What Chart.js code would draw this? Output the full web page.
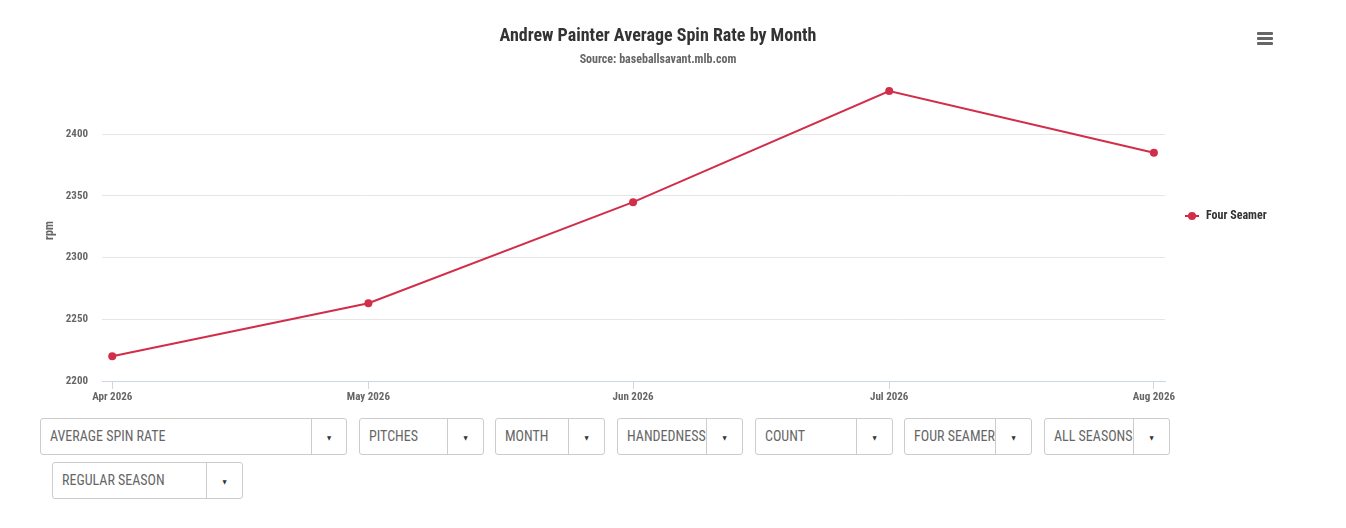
<!DOCTYPE html>
<html>
<head>
<meta charset="utf-8">
<script src="https://cdn.jsdelivr.net/npm/chart.js@4.4.1/dist/chart.umd.min.js"></script>
<style>
  html, body { margin: 0; padding: 0; background: #fff; }
  body { width: 1346px; height: 528px; position: relative; overflow: hidden;
         font-family: "Roboto Condensed", "Liberation Sans Narrow", "DejaVu Sans Condensed", sans-serif; }
  #wrap { position: absolute; left: 0; top: 0; width: 1346px; height: 410px; }
  .menu { position: absolute; left: 1257px; width: 16px; height: 3px; background: #666; border-radius: 1px; }
  .dd { position: absolute; height: 35px; border: 1px solid #ccc; border-radius: 3px; box-sizing: border-box;
        background: #fff; color: #666; font-size: 14px; }
  .dd .t { position: absolute; left: 9px; top: 0; line-height: 35px; white-space: nowrap; overflow: hidden; }
  .dd .a { position: absolute; right: 0; top: 0; bottom: 0; border-left: 1px solid #ccc; }
  .dd .a span { position: absolute; left: 50%; top: 50%; transform: translate(-50%, -50%); font-size: 6px; color: #333; }
</style>
</head>
<body>
<div id="wrap"><canvas id="c"></canvas></div>
<div class="menu" style="top:32px"></div>
<div class="menu" style="top:37px"></div>
<div class="menu" style="top:42px"></div>
<div id="controls"></div>
<script>
// ---- data ----
const chartTitle = 'Andrew Painter Average Spin Rate by Month';
const chartSubtitle = 'Source: baseballsavant.mlb.com';
const yAxisTitle = 'rpm';
const seriesName = 'Four Seamer';
const monthLabels = ['Apr 2026', 'May 2026', 'Jun 2026', 'Jul 2026', 'Aug 2026'];
const monthYear = [2026, 2026, 2026, 2026, 2026];
const monthNum = [3, 4, 5, 6, 7];            // JS month index (0 = Jan)
const spinRate = [2220, 2263, 2345, 2435, 2385];
const yTicks = [2200, 2250, 2300, 2350, 2400];
const dropdownLabels = ['AVERAGE SPIN RATE', 'PITCHES', 'MONTH', 'HANDEDNESS', 'COUNT', 'FOUR SEAMER', 'ALL SEASONS', 'REGULAR SEASON'];

// ---- controls (layout) ----
const ddGeom = [
  [40, 418, 307, 34], [359, 418, 125, 35], [495, 418, 110, 35], [617, 418, 126, 35],
  [755, 418, 138, 35], [904, 418, 128, 35], [1044, 418, 126, 35], [52, 462, 191, 35]
];
const controls = document.getElementById('controls');
dropdownLabels.forEach((lbl, i) => {
  const g = ddGeom[i];
  const d = document.createElement('div');
  d.className = 'dd';
  d.style.left = g[0] + 'px'; d.style.top = g[1] + 'px'; d.style.width = g[2] + 'px'; d.style.height = '37px';
  d.innerHTML = '<div class="t" style="width:' + (g[2] - g[3] - 10) + 'px">' + lbl + '</div>' +
                '<div class="a" style="width:' + g[3] + 'px"><span>&#9660;</span></div>';
  controls.appendChild(d);
});

// ---- chart ----
const DAY = 86400000;
const xVals = monthNum.map((m, i) => Date.UTC(monthYear[i], m, 1));
const points = xVals.map((x, i) => ({ x: x, y: spinRate[i] }));
const color = '#d22d49';
const FONT = '"Roboto Condensed", "Liberation Sans Narrow", "DejaVu Sans Condensed", sans-serif';

const decor = {
  id: 'decor',
  afterDraw(chart) {
    const ctx = chart.ctx;
    const ca = chart.chartArea;
    ctx.save();
    ctx.textAlign = 'center';
    ctx.textBaseline = 'middle';
    ctx.fillStyle = '#333';
    ctx.font = 'bold 18px ' + FONT;
    ctx.fillText(chartTitle, 658, 36);
    ctx.fillStyle = '#666';
    ctx.font = 'bold 12px ' + FONT;
    ctx.fillText(chartSubtitle, 658, 60);
    // y axis title
    ctx.save();
    ctx.translate(50, (ca.top + ca.bottom) / 2);
    ctx.rotate(-Math.PI / 2);
    ctx.font = 'bold 12px ' + FONT;
    ctx.fillStyle = '#666';
    ctx.fillText(yAxisTitle, 0, 0);
    ctx.restore();
    // legend
    const lx = ca.right + 20, ly = 216;
    ctx.strokeStyle = color; ctx.lineWidth = 2;
    ctx.beginPath(); ctx.moveTo(lx, ly); ctx.lineTo(lx + 14, ly); ctx.stroke();
    ctx.fillStyle = color;
    ctx.beginPath(); ctx.arc(lx + 7, ly, 4, 0, Math.PI * 2); ctx.fill();
    ctx.fillStyle = '#333';
    ctx.textAlign = 'left';
    ctx.font = 'bold 12px ' + FONT;
    ctx.fillText(seriesName, lx + 21, ly);
    ctx.restore();
  }
};

new Chart(document.getElementById('c'), {
  type: 'line',
  data: {
    datasets: [{
      label: seriesName,
      data: points,
      borderColor: color,
      backgroundColor: color,
      borderWidth: 2,
      pointRadius: 4,
      pointHoverRadius: 5,
      pointBackgroundColor: color,
      pointBorderWidth: 0,
      tension: 0
    }]
  },
  options: {
    responsive: true,
    maintainAspectRatio: false,
    animation: false,
    layout: { padding: { top: 80, right: 181, bottom: 4, left: 0 } },
    plugins: { legend: { display: false }, title: { display: false }, tooltip: { enabled: false } },
    scales: {
      x: {
        type: 'linear',
        min: xVals[0] - 1.2 * DAY,
        max: xVals[xVals.length - 1] + 1.3 * DAY,
        afterBuildTicks: (s) => { s.ticks = xVals.map(v => ({ value: v })); },
        afterFit: (s) => { s.height = 25; },
        ticks: {
          autoSkip: false, maxRotation: 0, padding: 2,
          color: '#666', font: { family: FONT, size: 11, weight: 'bold' },
          callback: (v) => { const i = xVals.indexOf(v); return i >= 0 ? monthLabels[i] : ''; }
        },
        grid: { drawOnChartArea: false, drawTicks: true, tickLength: 8, color: '#ccd6eb', lineWidth: 1 },
        border: { display: true, color: '#ccd6eb', width: 1 }
      },
      y: {
        min: yTicks[0],
        max: 2444,
        afterBuildTicks: (s) => { s.ticks = yTicks.map(v => ({ value: v })); },
        afterFit: (s) => { s.width = 102; },
        ticks: {
          padding: 14, color: '#666', font: { family: FONT, size: 11, weight: 'bold' },
          callback: (v) => String(v)
        },
        grid: { drawTicks: false, color: '#e6e6e6', lineWidth: 1 },
        border: { display: false }
      }
    }
  },
  plugins: [decor]
});
</script>
</body>
</html>
